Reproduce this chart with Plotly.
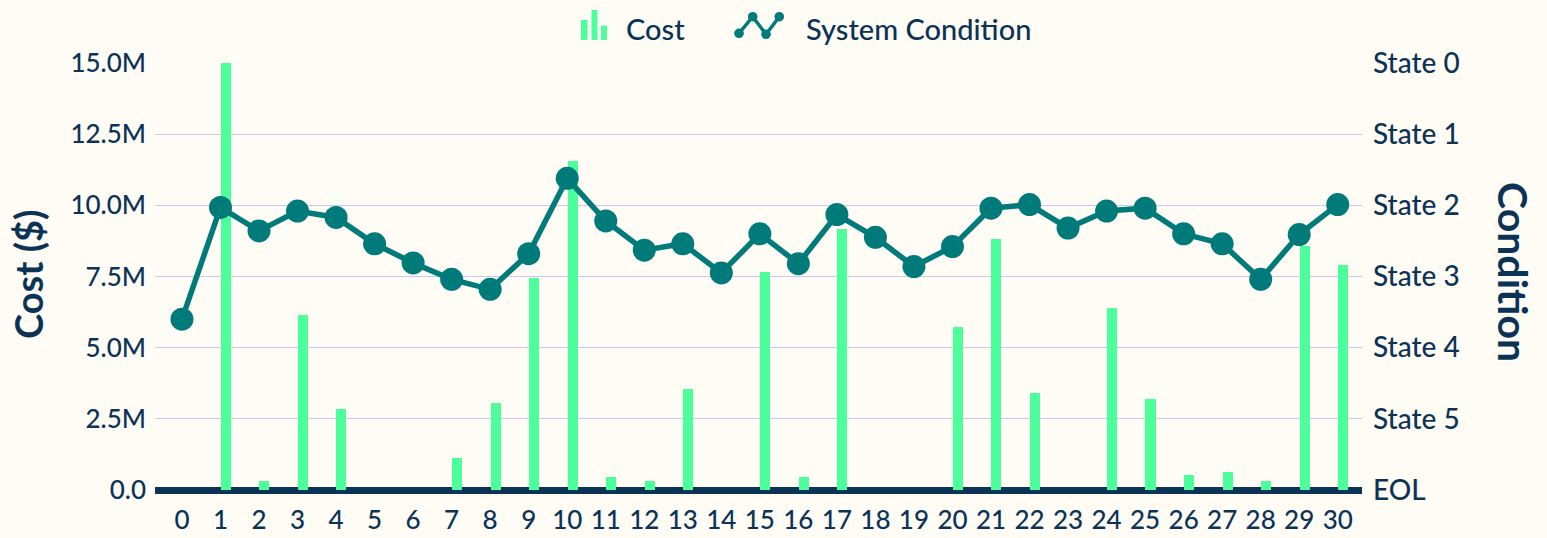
import plotly.graph_objects as go

years = list(range(31))
cost_musd = [0, 15.0, 0.32, 6.16, 2.86, 0, 0, 1.11, 3.07, 7.44, 11.57, 0.44, 0.33, 3.56, 0,
             7.66, 0.44, 9.16, 0, 0, 5.72, 8.82, 3.42, 0, 6.41, 3.18, 0.54, 0.65, 0.33, 8.58, 7.89]
condition = [2.40, 3.97, 3.64, 3.92, 3.83, 3.46, 3.19, 2.96, 2.82, 3.32, 4.38, 3.78, 3.37, 3.46, 3.05,
             3.60, 3.18, 3.87, 3.55, 3.14, 3.42, 3.96, 4.01, 3.68, 3.92, 3.96, 3.60, 3.46, 2.96, 3.59, 4.01]
cost_tickvals = [0, 2.5e6, 5e6, 7.5e6, 10e6, 12.5e6, 15e6]
cost_ticktext = ["0.0", "2.5M", "5.0M", "7.5M", "10.0M", "12.5M", "15.0M"]
cond_tickvals = [0, 1, 2, 3, 4, 5, 6]
cond_ticktext = ["EOL", "State 5", "State 4", "State 3", "State 2", "State 1", "State 0"]
legend_labels = ["Cost", "System Condition"]

NAVY = "#0B3356"
GREEN = "#4BFF9A"
TEAL = "#007B7A"
GRID = "#C8C8F0"
BG = "#FFFBF5"
FONT = "Lato"

W, H = 1547, 538
ML, MR, MT, MB = 155, 185, 63, 48
PW, PH = W - ML - MR, H - MT - MB
BAR_W = 0.26
BAR_SHIFT = 0.14


def px(x):
    return (x - ML) / PW


def py(y):
    return (H - MB - y) / PH


cost = [v * 1e6 for v in cost_musd]

fig = go.Figure()
fig.add_trace(go.Bar(x=years, y=cost, name=legend_labels[0],
                     marker=dict(color=GREEN, line=dict(width=0)),
                     width=BAR_W, offset=-BAR_W / 2 + BAR_SHIFT, yaxis="y", showlegend=False))
fig.add_trace(go.Scatter(x=years, y=condition, name=legend_labels[1], mode="lines+markers",
                         line=dict(color=TEAL, width=5.5), marker=dict(color=TEAL, size=23),
                         yaxis="y2", showlegend=False))

# custom legend glyphs (layout decoration)
shapes = []
for x0, x1, ytop in [(581, 587.5, 20), (591.5, 597.5, 10), (601, 607, 25.7)]:
    shapes.append(dict(type="rect", xref="paper", yref="paper", x0=px(x0), x1=px(x1),
                       y0=py(40), y1=py(ytop), fillcolor=GREEN, line=dict(width=0), layer="above"))
pts = [(739, 33.3), (752.7, 16.7), (766, 34.3), (779.3, 16.7)]
path = "M " + " L ".join(f"{px(a)},{py(b)}" for a, b in pts)
shapes.append(dict(type="path", xref="paper", yref="paper", path=path,
                   line=dict(color=TEAL, width=3.5), layer="above"))
r = 4.8
for a, b in pts:
    shapes.append(dict(type="circle", xref="paper", yref="paper", x0=px(a - r), x1=px(a + r),
                       y0=py(b + r), y1=py(b - r), fillcolor=TEAL, line=dict(width=0), layer="above"))

fig.update_layout(
    template="none",
    width=W, height=H,
    margin=dict(l=ML, r=MR, t=MT, b=MB, pad=0, autoexpand=False),
    paper_bgcolor=BG, plot_bgcolor=BG,
    font=dict(family=FONT, color=NAVY, size=26, weight=500),
    bargap=0,
    showlegend=False,
    hovermode="closest",
    xaxis=dict(range=[-0.70, 30.63], tickvals=years, ticktext=[str(y) for y in years],
               showgrid=False, zeroline=False, showline=False, ticks="", automargin=False,
               ticklabelstandoff=12, tickfont=dict(size=26, color=NAVY, weight=500)),
    yaxis=dict(range=[0, 15e6], tickvals=cost_tickvals, ticktext=cost_ticktext,
               showgrid=True, gridcolor=GRID, gridwidth=1, automargin=False,
               zeroline=True, zerolinecolor=NAVY, zerolinewidth=7,
               showline=False, ticks="", ticklabelstandoff=8,
               tickfont=dict(size=26, color=NAVY, weight=500)),
    yaxis2=dict(range=[0, 6], tickvals=cond_tickvals, ticktext=cond_ticktext,
                overlaying="y", side="right", showgrid=False, zeroline=False, automargin=False,
                showline=False, ticks="", ticklabelstandoff=10,
                tickfont=dict(size=28, color=NAVY, weight=500)),
    shapes=shapes,
    annotations=[
        dict(text="<b>Cost ($)</b>", xref="paper", yref="paper", x=px(28), y=py(274),
             xanchor="center", yanchor="middle", textangle=-90, showarrow=False,
             font=dict(size=38, color=NAVY, family=FONT)),
        dict(text="<b>Condition</b>", xref="paper", yref="paper", x=px(1514), y=py(272),
             xanchor="center", yanchor="middle", textangle=90, showarrow=False,
             font=dict(size=41, color=NAVY, family=FONT)),
        dict(text=legend_labels[0], xref="paper", yref="paper", x=px(624), y=py(29),
             xanchor="left", yanchor="middle", showarrow=False,
             font=dict(size=29, color=NAVY, family=FONT, weight=500)),
        dict(text=legend_labels[1], xref="paper", yref="paper", x=px(804), y=py(29),
             xanchor="left", yanchor="middle", showarrow=False,
             font=dict(size=29, color=NAVY, family=FONT, weight=500)),
    ],
)

fig.write_html("out.html", config={"displayModeBar": False},
               post_script="document.body.style.margin='0';")
